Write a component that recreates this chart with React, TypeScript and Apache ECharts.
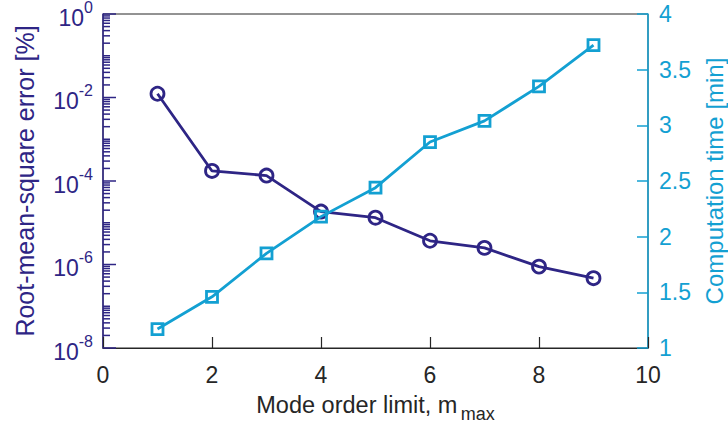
import React, { useEffect, useRef } from "react";
import * as echarts from "echarts";

const modeOrder = [1, 2, 3, 4, 5, 6, 7, 8, 9];
const rmsError = [1.23e-2, 1.74e-4, 1.35e-4, 1.85e-5, 1.32e-5, 3.7e-6, 2.5e-6, 8.9e-7, 4.7e-7];
const compTime = [1.17, 1.46, 1.85, 2.18, 2.44, 2.85, 3.04, 3.35, 3.72];
const logDecades = [-8, -7, -6, -5, -4, -3, -2, -1];
const labeledExponents = [-8, -6, -4, -2, 0];
const minorMultipliers = [1, 2, 3, 4, 5, 6, 7, 8, 9];

const INDIGO = "#2e2585";
const CYAN = "#13a0d2";
const DARK = "#262626";
const FONT = "'Liberation Sans', Arial, Helvetica, sans-serif";

export default function App() {
  const ref = useRef<HTMLDivElement>(null);
  useEffect(() => {
    if (!ref.current) return;
    const chart = echarts.init(ref.current, null, { renderer: "svg" });

    const tickData: number[][] = [];
    logDecades.forEach((d) => {
      minorMultipliers.forEach((k) => {
        const major = k === 1 && labeledExponents.includes(d);
        tickData.push([0, k * Math.pow(10, d), major ? 13 : 7]);
      });
    });
    tickData.push([0, 1, 13]);

    chart.setOption({
      animation: false,
      textStyle: { fontFamily: FONT },
      grid: {
        left: 103,
        right: 80,
        top: 14,
        bottom: 80,
        outerBoundsMode: "none",
        containLabel: false,
        show: true,
        borderColor: DARK,
        borderWidth: 1,
      },
      xAxis: {
        type: "value",
        min: 0,
        max: 10,
        interval: 2,
        axisLine: { lineStyle: { color: DARK, width: 1.2 } },
        axisTick: { inside: true, length: 11, lineStyle: { color: DARK, width: 1.2 } },
        axisLabel: { color: DARK, fontSize: 23, margin: 15, fontFamily: FONT },
        splitLine: { show: false },
        name: "{t|Mode order limit, m} {s|max}",
        nameLocation: "middle",
        nameGap: 44,
        nameTextStyle: {
          rich: {
            t: { fontSize: 23.5, color: DARK, fontFamily: FONT, verticalAlign: "top", lineHeight: 30 },
            s: { fontSize: 18, color: DARK, fontFamily: FONT, verticalAlign: "bottom", lineHeight: 18, padding: [14, 0, 0, 0] },
          },
        },
      },
      yAxis: [
        {
          type: "log",
          logBase: 10,
          min: 1e-8,
          max: 1,
          position: "left",
          axisLine: { show: true, lineStyle: { color: INDIGO, width: 1.5 } },
          axisTick: { show: false },
          splitLine: { show: false },
          axisLabel: {
            margin: 10,
            fontFamily: FONT,
            formatter: (v: number) => {
              const e = Math.round(Math.log10(v));
              if (!labeledExponents.includes(e)) return "";
              return `{b|10}{s|${e}}`;
            },
            rich: {
              b: { fontSize: 23, color: INDIGO, fontFamily: FONT, verticalAlign: "bottom", lineHeight: 30 },
              s: { fontSize: 16, color: INDIGO, fontFamily: FONT, verticalAlign: "top", lineHeight: 16 },
            },
          },
          name: "Root-mean-square error [%]",
          nameLocation: "middle",
          nameRotate: 90,
          nameGap: 66,
          nameTextStyle: { color: INDIGO, fontSize: 25, fontFamily: FONT },
        },
        {
          type: "value",
          min: 1,
          max: 4,
          interval: 0.5,
          position: "right",
          axisLine: { show: true, lineStyle: { color: CYAN, width: 1.5 } },
          axisTick: { show: true, inside: true, length: 11, lineStyle: { color: CYAN, width: 1.5 } },
          splitLine: { show: false },
          axisLabel: { color: CYAN, fontSize: 23, margin: 11, fontFamily: FONT },
          name: "Computation time [min]",
          nameLocation: "middle",
          nameRotate: 90,
          nameGap: 54,
          nameTextStyle: { color: CYAN, fontSize: 24, fontFamily: FONT },
        },
      ],
      series: [
        {
          type: "custom",
          xAxisIndex: 0,
          yAxisIndex: 0,
          silent: true,
          clip: false,
          z: 5,
          encode: { x: 0, y: 1 },
          data: tickData,
          renderItem: (params: any, api: any) => {
            const p = api.coord([0, api.value(1)]);
            const len = api.value(2);
            return {
              type: "line",
              shape: { x1: p[0], y1: p[1], x2: p[0] + len, y2: p[1] },
              style: { stroke: INDIGO, lineWidth: 1.5 },
            };
          },
        },
        {
          type: "line",
          yAxisIndex: 0,
          data: modeOrder.map((x, i) => [x, rmsError[i]]),
          symbol: "circle",
          symbolSize: 13,
          lineStyle: { color: INDIGO, width: 2.8 },
          itemStyle: { color: "rgba(255,255,255,0)", borderColor: INDIGO, borderWidth: 2.8 },
          z: 3,
        },
        {
          type: "line",
          yAxisIndex: 1,
          data: modeOrder.map((x, i) => [x, compTime[i]]),
          symbol: "rect",
          symbolSize: 11,
          lineStyle: { color: CYAN, width: 2.8 },
          itemStyle: { color: "rgba(255,255,255,0)", borderColor: CYAN, borderWidth: 2.8 },
          z: 4,
        },
      ],
    });
    return () => chart.dispose();
  }, []);
  return <div ref={ref} style={{ width: 728, height: 428, position: "absolute", left: 0, top: 0, background: "#fff" }} />;
}
